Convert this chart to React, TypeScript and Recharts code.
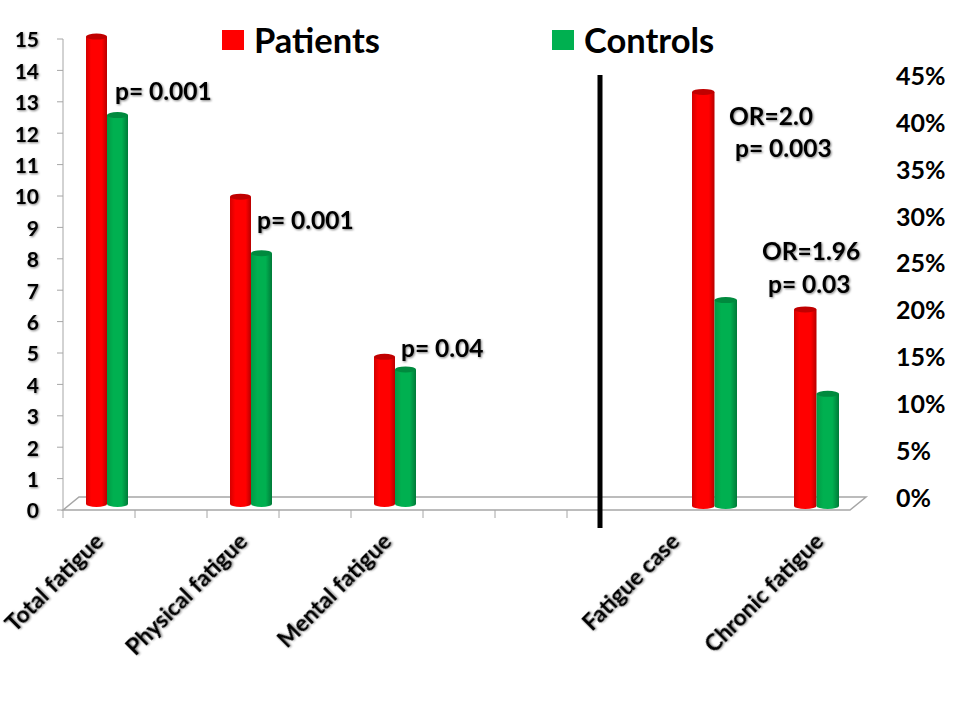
import { Bar, BarChart, Legend, XAxis, YAxis } from 'recharts';

const scoreCategories = [
  'Total fatigue', ' ', 'Physical fatigue', '  ', 'Mental fatigue', '   ', '    ', '     ',
  'Fatigue case', '      ', 'Chronic fatigue',
];
const patientsScore = [14.95, null, 9.85, null, 4.75, null, null, null, null, null, null];
const controlsScore = [12.45, null, 8.05, null, 4.35, null, null, null, null, null, null];
const scoreTicks = [0, 1, 2, 3, 4, 5, 6, 7, 8, 9, 10, 11, 12, 13, 14, 15];

const rateCategories = ['Fatigue case', 'Chronic fatigue'];
const patientsRate = [43.2, 20];
const controlsRate = [21, 11];
const rateTicks = [0, 5, 10, 15, 20, 25, 30, 35, 40, 45];

const scoreData = scoreCategories.map((name, i) => ({
  name,
  patients: patientsScore[i],
  controls: controlsScore[i],
}));
const rateData = rateCategories.map((name, i) => ({
  name,
  patients: patientsRate[i],
  controls: controlsRate[i],
}));

const RED = '#FF0000';
const GREEN = '#00B050';
const AXIS = '#A6A6A6';
const FONT = 'Lato, "Open Sans", sans-serif';
const SHADOW = 'drop-shadow(1px 1px 1px rgba(0,0,0,0.5))';
const NUMBER_OF_AXIS_TICKS = 8;
const LEGEND_SPOTS: Record<string, number> = { Patients: 220, Controls: 550 };

function Cylinder(props: any, dx: number, dy: number, grow: number) {
  const { x, y, width, height } = props;
  if (!height || height <= 0) return <g />;
  const isRed = props.dataKey === 'patients';
  const left = x + dx;
  const top = y + dy;
  const bottom = y + height + dy + grow;
  const rx = width / 2;
  return (
    <g>
      <path
        d={`M${left},${top} L${left},${bottom - 2} A${rx},3 0 0 0 ${left + width},${bottom - 2} L${left + width},${top} Z`}
        fill={`url(#${isRed ? 'cylRed' : 'cylGreen'})`}
      />
      <ellipse cx={left + rx} cy={top} rx={rx} ry={3} fill={isRed ? '#C00000' : '#008A3E'} />
    </g>
  );
}

function ScoreTick({ x, y, payload, index }: any) {
  return (
    <g>
      {index < NUMBER_OF_AXIS_TICKS && (
        <line x1={x - 36} x2={x - 36} y1={y - 8} y2={y} stroke={AXIS} />
      )}
      <text
        x={x + 6}
        y={y + 25}
        textAnchor="end"
        transform={`rotate(-45 ${x + 6} ${y + 25})`}
        fontFamily={FONT}
        fontWeight={700}
        fontSize={23}
        fill="#000"
        style={{ filter: SHADOW }}
      >
        {payload.value}
      </text>
    </g>
  );
}

function LegendBlock({ payload }: any) {
  return (
    <div style={{ position: 'relative', width: 960, height: 60, fontFamily: FONT }}>
      {(payload || []).map((item: any) => (
        <div key={item.value} style={{ position: 'absolute', left: LEGEND_SPOTS[item.value], top: 0 }}>
          <span
            style={{
              position: 'absolute',
              left: 2,
              top: 30,
              width: 22,
              height: 20,
              background: item.color,
            }}
          />
          <span
            style={{
              position: 'absolute',
              left: 34,
              top: 20,
              fontSize: 34.5,
              fontWeight: 700,
              lineHeight: '40px',
              color: '#000',
              whiteSpace: 'nowrap',
            }}
          >
            {item.value}
          </span>
        </div>
      ))}
    </div>
  );
}

const noteStyle = {
  fontFamily: FONT,
  fontWeight: 700,
  fontSize: 24.5,
  fill: '#000',
  filter: SHADOW,
};

export default function App() {
  return (
    <div style={{ position: 'fixed', left: 0, top: 0, width: 960, height: 720, background: '#fff' }}>
      <svg width={960} height={720} style={{ position: 'absolute', left: 0, top: 0 }}>
        <path d="M63,510 L79,497 L866,497 L850,510 Z" fill="#fff" stroke={AXIS} strokeWidth={1.5} />
      </svg>

      <div style={{ position: 'absolute', left: 0, top: 0 }}>
        <BarChart
          width={960}
          height={720}
          data={scoreData}
          barSize={21}
          barGap={0}
          margin={{ top: 39, right: 105, bottom: 0, left: 3 }}
        >
          <defs>
            <linearGradient id="cylRed" x1="0" x2="1" y1="0" y2="0">
              <stop offset="0" stopColor="#D40000" />
              <stop offset="0.25" stopColor={RED} />
              <stop offset="0.75" stopColor={RED} />
              <stop offset="1" stopColor="#B80000" />
            </linearGradient>
            <linearGradient id="cylGreen" x1="0" x2="1" y1="0" y2="0">
              <stop offset="0" stopColor="#009A45" />
              <stop offset="0.3" stopColor={GREEN} />
              <stop offset="0.7" stopColor={GREEN} />
              <stop offset="1" stopColor="#007A38" />
            </linearGradient>
          </defs>
          <XAxis
            dataKey="name"
            height={210}
            interval={0}
            axisLine={false}
            tickLine={false}
            tick={<ScoreTick />}
          />
          <YAxis
            width={60}
            domain={[0, 15]}
            ticks={scoreTicks}
            interval={0}
            stroke={AXIS}
            tickMargin={18}
            tick={{
              fontFamily: FONT,
              fontWeight: 700,
              fontSize: 21,
              fill: '#000',
              dy: 1,
              style: { filter: SHADOW },
            }}
          />
          <Legend
            layout="horizontal"
            verticalAlign="middle"
            wrapperStyle={{ position: 'absolute', left: 0, top: 0, width: 960, height: 60 }}
            content={<LegendBlock />}
          />
          <Bar
            dataKey="patients"
            name="Patients"
            fill={RED}
            isAnimationActive={false}
            shape={(p: any) => Cylinder({ ...p, dataKey: 'patients' }, 8, -4, 0)}
          />
          <Bar
            dataKey="controls"
            name="Controls"
            fill={GREEN}
            isAnimationActive={false}
            shape={(p: any) => Cylinder({ ...p, dataKey: 'controls' }, 8, -4, 0)}
          />
        </BarChart>
      </div>

      <div style={{ position: 'absolute', left: 0, top: 0 }}>
        <BarChart
          width={960}
          height={720}
          data={rateData}
          barSize={22.5}
          barGap={0}
          margin={{ top: 75, right: 3, bottom: 223, left: 663 }}
        >
          <XAxis dataKey="name" hide />
          <YAxis
            orientation="right"
            width={90}
            domain={[0, 45]}
            ticks={rateTicks}
            interval={0}
            axisLine={false}
            tickLine={false}
            tickMargin={23}
            tickFormatter={(v: number) => `${v}%`}
            tick={{ fontFamily: FONT, fontWeight: 700, fontSize: 25, fill: '#000', dy: 1 }}
          />
          <Bar
            dataKey="patients"
            fill={RED}
            isAnimationActive={false}
            shape={(p: any) => Cylinder({ ...p, dataKey: 'patients' }, 0, 0, 11)}
          />
          <Bar
            dataKey="controls"
            fill={GREEN}
            isAnimationActive={false}
            shape={(p: any) => Cylinder({ ...p, dataKey: 'controls' }, 0, 0, 11)}
          />
        </BarChart>
      </div>

      <svg width={960} height={720} style={{ position: 'absolute', left: 0, top: 0, pointerEvents: 'none' }}>
        <line x1={600} x2={600} y1={75} y2={528} stroke="#000" strokeWidth={5} />
        <text x={115} y={100} style={noteStyle}>p= 0.001</text>
        <text x={257} y={229} style={noteStyle}>p= 0.001</text>
        <text x={401} y={357} style={noteStyle}>p= 0.04</text>
        <text x={729} y={125} style={noteStyle}>OR=2.0</text>
        <text x={735} y={157} style={noteStyle}>p= 0.003</text>
        <text x={762} y={260} style={noteStyle}>OR=1.96</text>
        <text x={768} y={293} style={noteStyle}>p= 0.03</text>
      </svg>
    </div>
  );
}
